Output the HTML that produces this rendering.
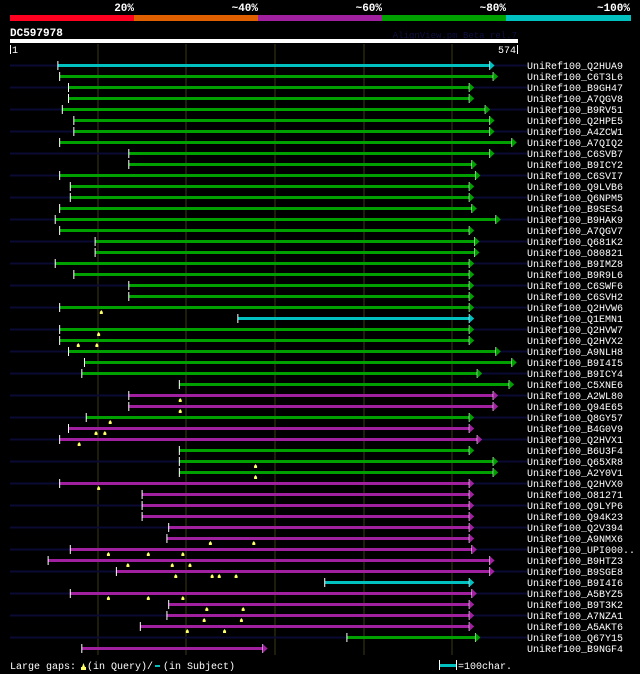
<!DOCTYPE html>
<html><head><meta charset="utf-8"><style>
html,body{margin:0;padding:0;background:#000;}
svg{display:block;}
text{font-family:"Liberation Mono","DejaVu Sans Mono",monospace;}
</style></head><body>
<svg id="chart" width="640" height="674" viewBox="0 0 640 674">
<rect x="0" y="0" width="640" height="674" fill="#000"/>
<g>
<rect x="10" y="15" width="124" height="6" fill="#ff0020"/>
<rect x="134" y="15" width="124" height="6" fill="#e06000"/>
<rect x="258" y="15" width="124" height="6" fill="#a020a0"/>
<rect x="382" y="15" width="124" height="6" fill="#00a000"/>
<rect x="506" y="15" width="125" height="6" fill="#00c0c0"/>
<text x="134" y="11" fill="#fff" font-size="11" font-weight="bold" text-anchor="end">20%</text>
<text x="258" y="11" fill="#fff" font-size="11" font-weight="bold" text-anchor="end">~40%</text>
<text x="382" y="11" fill="#fff" font-size="11" font-weight="bold" text-anchor="end">~60%</text>
<text x="506" y="11" fill="#fff" font-size="11" font-weight="bold" text-anchor="end">~80%</text>
<text x="630" y="11" fill="#fff" font-size="11" font-weight="bold" text-anchor="end">~100%</text>
</g>
<text x="10" y="36" fill="#fff" font-size="11" font-weight="bold">DC597978</text>
<text x="517" y="38" fill="#101040" font-size="9" text-anchor="end">AlignView.pm Beta rel.7</text>
<rect x="10" y="39" width="508" height="4" fill="#fff"/>
<g id="grid"></g>
<rect x="10" y="45" width="1" height="9" fill="#fff"/>
<text x="12" y="53" fill="#fff" font-size="10">1</text>
<rect x="517" y="45" width="1" height="9" fill="#fff"/>
<text x="516" y="53" fill="#fff" font-size="10" text-anchor="end">574</text>
<g id="rows"></g>
<g>
<text x="10" y="669" fill="#fff" font-size="10">Large gaps:</text>
<path d="M82,667 L83.5,663 L85,667 Z M81,667 h5 v3 h-5 Z" fill="#ffff66"/>
<text x="87" y="669" fill="#fff" font-size="10">(in Query)/</text>
<rect x="155" y="665" width="5" height="2" fill="#00c0c0"/>
<text x="163" y="669" fill="#fff" font-size="10">(in Subject)</text>
<rect x="439" y="660" width="1" height="10" fill="#fff"/>
<rect x="440" y="664" width="16" height="3" fill="#00c0c0"/>
<rect x="456" y="660" width="1" height="10" fill="#fff"/>
<text x="458" y="669" fill="#fff" font-size="10">=100char.</text>
</g>
</svg>
<script>
const names=["Q2HUA9","C6T3L6","B9GH47","A7QGV8","B9RV51","Q2HPE5","A4ZCW1","A7QIQ2","C6SVB7","B9ICY2","C6SVI7","Q9LVB6","Q6NPM5","B9SES4","B9HAK9","A7QGV7","Q681K2","O80821","B9IMZ8","B9R9L6","C6SWF6","C6SVH2","Q2HVW6","Q1EMN1","Q2HVW7","Q2HVX2","A9NLH8","B9I4I5","B9ICY4","C5XNE6","A2WL80","Q94E65","Q8GY57","B4G0V9","Q2HVX1","B6U3F4","Q65XR8","A2Y0V1","Q2HVX0","O81271","Q9LYP6","Q94K23","Q2V394","A9NMX6","UPI000..","B9HTZ3","B9SGE8","B9I4I6","A5BYZ5","B9T3K2","A7NZA1","A5AKT6","Q67Y15","B9NGF4"];
const starts=[55,57,67,67,60,73,73,57,135,135,57,69,69,57,52,57,97,97,52,73,135,135,57,258,57,57,67,85,82,192,135,135,87,67,57,192,192,192,57,150,150,150,180,178,69,44,121,356,69,180,178,148,381,82];
const ends=[542,546,519,519,537,542,542,567,542,522,526,519,519,522,549,519,525,525,519,519,519,519,519,519,519,519,549,567,528,564,546,546,519,519,528,519,546,546,519,519,519,519,519,519,522,542,542,519,522,519,519,519,526,286];
const scores=["c","g","g","g","g","g","g","g","g","g","g","g","g","g","g","g","g","g","g","g","g","g","g","c","g","g","g","g","g","g","p","p","g","p","p","g","g","g","p","p","p","p","p","p","p","p","p","c","p","p","p","p","g","p"];
const navy=[1,0,1,0,1,0,1,0,1,0,1,0,1,0,1,0,1,0,1,0,1,0,1,0,1,0,1,0,1,0,1,0,1,0,1,0,1,0,1,0,1,0,1,0,1,0,1,0,1,0,1,0,1,0];
const gapRows=[22,24,25,25,30,31,32,33,33,34,36,37,38,43,43,44,44,44,45,45,45,46,46,46,46,48,48,48,49,49,50,50,51,51];
const gapPos=[104,101,78,99,193,193,114,98,108,79,278,278,101,227,276,112,157,196,134,184,204,188,229,237,256,112,157,196,223,264,220,262,201,243];
const gridTicks=[100,200,300,400,500];

const colorMap={c:"#00c0c0",g:"#00a000",p:"#a020a0"};
const NS="http://www.w3.org/2000/svg";
function xs(r){return 10+(r-1)*(508/573);}
function ys(i){return 65+i*11;}
function mk(tag,attrs,parent){const e=document.createElementNS(NS,tag);for(const k in attrs)e.setAttribute(k,attrs[k]);parent.appendChild(e);return e;}

const grid=document.getElementById('grid');
gridTicks.forEach(t=>{
  const l=mk('rect',{x:Math.round(xs(t))-0.5,y:44,width:1,height:611,fill:'#3a3a12'},grid);
  
  
});
const rows=document.getElementById('rows');
names.forEach((n,i)=>{
  const y=ys(i);
  const g=mk('g',{},rows);
  
  
  if(navy[i]){
    const bg=mk('rect',{x:10,y:y-0.5,width:517,height:2,fill:'#0a0a35'},g);
    
    
  }
  const col=colorMap[scores[i]];
  const x0=xs(starts[i]), x1=xs(ends[i]);
  const bar=mk('rect',{x:x0,y:y-1,width:x1-x0,height:3,fill:col},g);
  
  
  const t0=mk('rect',{x:x0-0.5,y:y-4,width:1,height:9,fill:'#fff'},g);
  
  
  const t1=mk('rect',{x:x1-0.5,y:y-4,width:1,height:9,fill:'#fff'},g);
  
  
  const ar=mk('path',{d:`M${x1},${y-4} L${x1+5},${y+0.5} L${x1},${y+5} Z`,fill:col},g);
  
  
  const lb=mk('text',{x:527,y:y+4,fill:'#fff','font-size':10},g);
  lb.textContent='UniRef100_'+n;
  
  
});
gapRows.forEach((ri,k)=>{
  const x=xs(gapPos[k]), y=ys(ri);
  const m=mk('path',{d:`M${x-1.5},${y+7} L${x-1.5},${y+5} L${x},${y+3} L${x+1.5},${y+5} L${x+1.5},${y+7} Z`,fill:'#ffff66'},rows);
  
  
});
</script>
</body></html>
